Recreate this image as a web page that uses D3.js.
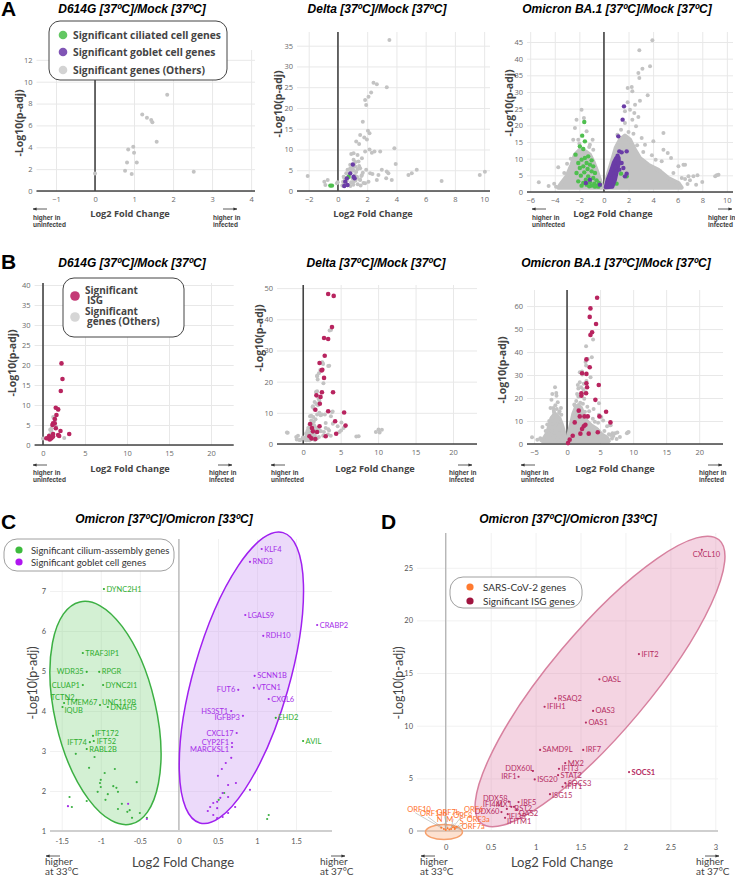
<!DOCTYPE html>
<html>
<head>
<meta charset="utf-8">
<script src="https://cdn.jsdelivr.net/npm/d3@7"></script>
<style>
  body { margin: 0; background: #fff; }
  svg { display: block; }
</style>
</head>
<body>
<script>
// ---------------- data ----------------

// A: D614G vs mock (all significant genes, grey)
const d614gPts = [[1.85,8.8],[1.21,7.0],[1.33,6.7],[1.44,6.5],[1.47,6.3],[1.58,4.5],[0.98,4.05],[0.85,3.8],
  [1.0,3.5],[0.82,2.6],[1.07,2.6],[0.77,1.85],[0.94,1.55],[2.53,1.75],[0.0,1.6]];

// A: Delta vs mock
const deltaPts = [[3.52,36.4],[2.43,26.1],[2.66,25.7],[3.34,25],[2.27,23.7],[2.09,22.7],[1.86,21.9],[1.93,20.7],
  [1.7,16.7],[2.05,14.5],[2.16,13.9],[1.52,13.5],[1.8,12.9],[1.98,12.4],[1.25,11.9],[1.45,11.3],[3.86,10.3],
  [2.16,10.0],[1.86,9.5],[2.32,9.2],[2.5,9.5],[2.89,9.5],[0.91,8.9],[1.07,9.1],[1.34,8.7],[1.64,7.9],[3.95,6.5],
  [1.41,7.1],[1.07,7.5],[0.84,6.3],[1.18,5.9],[1.52,5.5],[1.93,5.1],[2.2,4.3],[3.0,5.1],[3.34,4.7],[2.36,4.1],
  [2.77,3.85],[3.45,4.3],[5.39,5.1],[5.05,4.3],[4.82,3.85],[3.3,3.05],[3.68,2.65],[2.66,2.65],[7.09,2.4],
  [9.7,3.85],[10.05,4.65],[-2.07,3.6],[-0.93,2.25],[-0.7,2.65],[-0.86,1.45],[-0.07,1.85],[-0.02,2.1],[0.39,3.45],
  [0.57,4.25],[0.66,5.1],[0.84,5.5],[0.57,2.25],[1.07,2.25],[1.52,2.65],[1.86,1.85],[2.09,2.25],[1.3,3.45],
  [1.64,3.85],[0.39,1.45],[0.5,1.5],[0.6,2.5],[0.7,3.2],[0.8,4],[0.9,4.8],[1.0,5.5],[1.1,6.2],[1.2,7],[0.55,2],
  [0.65,1.4],[0.9,2.1],[1.0,3],[1.15,3.8],[1.25,4.6],[1.35,5.3],[1.45,6],[1.2,2.5],[1.35,1.6],[1.5,2.8],[1.6,3.6],
  [1.7,4.4],[1.55,1.3],[1.75,1.9],[0.45,3.1],[0.35,2.2],[0.3,1.3],[0.85,1.2],[1.05,1.5],[1.3,3.2],[1.1,4.9]];
const deltaCiliated = [[0.73,3.45],[-0.52,1.3],[-0.41,1.3]];
const deltaGoblet = [[1.02,6.4],[1.07,3.45],[1.14,3.05],[0.61,3.05],[0.5,2.25],[0.66,1.45],[0.43,1.2],[0.84,4.25]];

// A: Omicron BA.1 vs mock - dense cores traced as outlines, sparse genes as points
const omiLeftCore = [[-3.72,1.3],[-3.5,2.5],[-3.04,4.7],[-2.64,8.2],[-2.36,11.2],[-1.96,12.7],[-1.5,12.2],
  [-1.14,11.2],[-0.87,9.2],[-0.6,6.7],[-0.33,3.7],[-0.14,1.3]];
const omiRightCore = [[0.08,1.3],[0.35,5.7],[0.68,9.7],[0.95,13.2],[1.3,15.7],[1.71,16.9],[2.12,15.7],[2.53,12.7],
  [2.93,10.2],[3.61,8.2],[4.43,6.7],[5.24,4.2],[6.06,2.7],[6.33,1.3]];
const omiGobletCore = [[0.14,1.4],[0.3,3.7],[0.57,6.2],[0.79,8.7],[1.0,10.2],[1.2,10.3],[1.22,8.7],[1.05,6.2],
  [0.9,3.7],[0.68,1.6]];
const omiPts = [[3.94,45.5],[2.88,42.5],[3.75,37.7],[3.13,37],[2.8,35.7],[2.88,34.2],[1.93,31.2],[2.26,31.5],
  [2.31,30.2],[3.56,29],[2.93,27.4],[2.53,26.2],[1.93,26.9],[2.12,24.7],[2.47,23.7],[2.8,22.5],[1.71,24.2],
  [2.31,21.7],[2.61,19.7],[3.07,16.2],[4.84,17.7],[1.71,20.7],[1.39,18.7],[3.34,14.2],[4.02,15.2],[4.84,12.7],
  [5.19,11.7],[5.46,10.2],[4.21,9.7],[4.7,9.2],[6.06,7.7],[6.47,8.2],[6.6,8.2],[4.57,6.2],[5.65,5.7],[6.88,4.7],
  [7.28,4.7],[7.61,5.0],[6.33,4.2],[6.6,3.9],[9.05,4.7],[9.32,5.2],[9.18,5.0],[5.38,3.2],[5.92,2.7],[-5.3,2.9],
  [-3.72,7.4],[-4.05,2.5],[-3.23,5.7],[-2.36,19.2],[-2.23,21.7],[-1.82,24.7],[-1.63,22.2],[-2.5,15.7],[-2.09,15.7],
  [-1.41,18.2],[-1.14,14.2],[-0.92,15.7],[-0.87,12.7],[2.0,18],[2.4,17.5],[1.1,17.2],[2.7,14],[3.2,12],[3.9,11],
  [-2.7,10],[-3.0,8.5],[-1.2,13.5],[-2.0,14.5],[7.0,3.5],[8.0,3.0],[6.8,2.4],[7.5,2.2],[-4.5,1.8],[-3.9,1.6]];
const omiCiliated = [[-1.6,21.0],[-1.77,16.9],[-1.55,15.2],[-1.96,13.7],[-1.68,12.9],[-2.31,11.2],[-1.28,10.7],
  [-1.55,10.2],[-1.82,9.7],[-1.0,9.5],[-2.09,8.7],[-1.41,8.7],[-1.14,8.2],[-1.68,7.7],[-0.87,7.7],[-1.96,7.2],
  [-1.33,6.9],[-1.0,6.2],[-1.6,5.9],[-0.73,5.7],[-2.23,5.7],[-1.88,4.9],[-1.28,4.7],[-0.87,4.2],[-1.47,3.7],
  [-2.09,3.2],[-0.6,3.5],[-1.14,2.9],[-1.68,2.7],[-0.79,2.5],[-0.41,2.7],[-1.41,2.2],[-1.0,1.9],[-0.6,1.9],
  [-0.33,2.1],[-1.82,1.9],[-1.2,1.7],[-0.73,1.6],[-0.46,1.6],[0.95,8.9],[1.39,5.5],[1.85,4.7],[1.03,2.5]];
const omiGoblet = [[1.63,25.7],[1.52,21.7],[1.17,16.7],[1.25,12.2],[1.44,11.9],[1.85,12.2],[1.11,10.9],[1.44,8.7],
  [0.95,7.5],[1.58,7.2],[1.25,6.7],[1.85,5.5],[0.84,4.7],[1.71,4.7],[-1.14,3.7],[-0.33,2.2],[-1.47,2.7]];

// B: interferon stimulated genes
const d614gIsg = [[2.2,20.4],[2.32,16.5],[2.12,13.5],[1.52,9.3],[1.8,8.9],[1.6,7.5],[1.4,6.5],[1.2,5.4],[1.4,5.4],
  [1.12,5.0],[1.52,4.2],[2.08,3.5],[3.12,2.75],[1.2,2.75],[1.8,2.5],[1.92,2.25],[0.72,2.25],[0.6,1.7],[1.0,1.7],
  [0.8,1.4],[1.2,2.1],[0.4,1.7]];
const deltaIsg = [[3.33,48.1],[4.07,47.5],[3.84,37.5],[2.78,34],[3.33,33.7],[2.87,28.3],[2.18,26],[2.55,23.8],
  [2.45,23.6],[2.78,21.2],[3.98,16.6],[2.5,16.6],[1.76,15.6],[2.31,15.1],[2.22,12.9],[1.62,11],[3.33,10.5],
  [5.46,10.1],[4.26,7.3],[0.93,6.4],[1.16,5.1],[2.18,5.7],[5.65,5.9],[4.4,3.3],[1.85,3.85],[1.3,4.06],[3.0,2.5],
  [0.83,2.5],[1.1,1.8],[1.62,1.6]];
const deltaExtra = [[3.7,36.6],[3.47,25.1],[2.55,26.2],[1.85,21.7],[3.93,10.4],[1.3,12.1],[1.76,12.8],[10.2,3.7],
  [10.5,4.6],[7.4,2.5],[-2.18,3.7],[5.1,6.9],[4.6,5.7],[3.7,8.9],[3.0,6.7],[1.85,16.9],[2.7,19.5]];
const omiIsg = [[4.55,63.6],[3.54,59],[3.43,55.3],[4.39,52.2],[3.79,48.6],[3.54,47.4],[2.93,36.8],[3.43,33.4],
  [2.27,30.8],[2.93,30.5],[2.93,26.4],[4.8,25.7],[3.03,24.7],[2.17,22.1],[2.88,22.1],[2.17,21],[4.29,19.2],
  [1.77,14.5],[5.91,14],[1.92,12],[2.63,12],[3.13,12],[4.9,12],[1.16,9.4],[2.78,8.4],[2.53,7.7],[6.57,9.4],
  [2.27,6.5],[4.65,5.1],[0.86,3.6],[2.02,4.5],[3.28,4.5],[0.4,1.9],[0.15,0.4]];

// C: Omicron 37 vs 33
const ciliumLabeled = [["DYNC2H1",-0.96,7.05],["TRAF3IP1",-1.23,5.45],["WDR35",-1.18,4.98],["RPGR",-1.02,4.98],
  ["CLUAP1",-1.23,4.65],["DYNC2I1",-0.97,4.65],["TCTN2",-1.31,4.28],["TMEM67",-1.47,4.2],["IQUB",-1.49,4.1],
  ["UNC119B",-1.01,4.15],["DNAH5",-0.91,4.1],["IFT172",-1.10,3.38],["IFT52",-1.09,3.25],["IFT74",-1.14,3.22],
  ["RABL2B",-1.18,3.05],["EHD2",1.24,3.83],["AVIL",1.59,3.25]];
const ciliumOther = [[-1.32,2.93],[-1.08,2.85],[-1.15,2.58],[-0.95,2.45],[-0.82,2.55],[-1.0,2.28],[-1.01,2.2],
  [-1.0,2.1],[-0.84,2.12],[-0.8,2.08],[-0.78,1.98],[-1.04,1.98],[-0.91,1.92],[-0.94,1.78],[-1.18,1.75],[-1.4,1.85],
  [-1.37,1.6],[-0.78,1.55],[-0.73,1.68],[-0.66,1.48],[-0.63,1.52],[-0.54,2.22],[-0.5,1.45],[-0.6,1.33],[-0.41,1.33],
  [0.58,1.95],[0.51,1.78],[1.15,1.4],[1.13,1.3]];
const gobletLabeled = [["KLF4",1.06,8.05],["RND3",0.91,7.73],["LGALS9",0.85,6.4],["CRABP2",1.77,6.15],
  ["RDH10",1.08,5.88],["SCNN1B",0.97,4.88],["VTCN1",0.96,4.58],["FUT6",0.76,4.53],["CXCL6",1.15,4.3],
  ["HS3ST1",0.67,4.0],["IGFBP3",0.82,3.88],["CXCL17",0.74,3.45],["CYP2F1",0.68,3.2],["MARCKSL1",0.68,3.1]];
const gobletOther = [[0.67,2.83],[0.6,2.7],[0.55,2.55],[0.5,2.38],[0.73,2.2],[0.63,2.15],[0.91,2.03],[0.56,1.95],
  [0.53,1.83],[0.49,1.73],[0.44,1.7],[0.63,1.85],[0.72,1.6],[0.4,1.6],[0.37,1.5],[0.49,1.57],[0.63,1.45],[0.44,1.4],
  [0.56,1.35],[0.49,1.32],[-1.42,1.62],[-0.65,1.68],[-0.41,1.3]];

// D: Omicron 37 vs 33, ISGs and viral genes
const isgGenes = [["CXCL10",2.85,26.7],["IFIT2",2.15,16.8],["OASL",1.71,14.4],["RSAQ2",1.22,12.6],["IFIH1",1.1,11.8],
  ["OAS3",1.64,11.4],["OAS1",1.56,10.3],["SAMD9L",1.05,7.7],["IRF7",1.53,7.7],["MX2",1.33,6.45],["IFIT3",1.26,5.9],
  ["STAT2",1.25,5.3],["SOCS1",2.04,5.6],["SOCS3",1.33,4.55],["IFIT1",1.3,4.2],["ISG15",1.16,3.5],["ISG20",0.99,4.9],
  ["DDX60L",0.97,5.7],["IRF1",0.81,5.15],["DDX58",0.7,2.8],["IRF5",0.81,2.75],["IFI44L",0.68,2.1],["MX1",0.76,2.3],
  ["BST2",0.73,2.3],["DDX60",0.62,1.8],["OAS2",0.79,2.0],["IFI35",0.69,1.6],["IFITM1",0.66,1.25]];
const sarsGenes = [["ORF10",-0.05,0.3],["ORF1ab",-0.02,0.2],["ORF7b",0.02,0.25],["ORF6",0.08,0.35],["ORF8",0.06,0.2],
  ["N",0.0,0.1],["M",0.04,0.15],["ORF3a",0.1,0.2],["ORF7a",0.1,0.3],["S",0.12,0.4]];

// tick values
const d614gXTicks = [-1,0,1,2,3,4], d614gYTicks = [0,2,4,6,8,10,12];
const deltaXTicks = [-2,0,2,4,6,8,10], deltaYTicks = [0,5,10,15,20,25,30,35];
const omiXTicks = [-6,-4,-2,0,2,4,6,8,10], omiYTicks = [0,5,10,15,20,25,30,35,40,45];
const isgXTicks = [0,5,10,15,20], isgXTicksOmi = [-5,0,5,10,15,20];
const d614gIsgYTicks = [0,5,10,15,20,25,30,35,40], deltaIsgYTicks = [0,10,20,30,40,50], omiIsgYTicks = [0,10,20,30,40,50,60];
const cXTicks = [-1.5,-1,-0.5,0,0.5,1,1.5], cYTicks = [1,2,3,4,5,6,7];
const dXTicks = [0,0.5,1,1.5,2,2.5,3], dYTicks = [0,5,10,15,20,25];

// ---------------- drawing ----------------
const FP = "'Open Sans', 'DejaVu Sans', sans-serif";
const FT = "'Liberation Sans', Arial, sans-serif";
const FG = "Lato, 'Open Sans', sans-serif";
const GREY = "#c3c3c3", GREEN = "#4fbf4f", PURPLE = "#6a3ca6", ISG = "#b8245f";

const svg = d3.select("body").append("svg").attr("width", 735).attr("height", 877);

svg.append("defs").append("marker").attr("id", "ah").attr("viewBox", "0 0 10 10")
  .attr("refX", 9).attr("refY", 5).attr("markerWidth", 5).attr("markerHeight", 5).attr("orient", "auto-start-reverse")
  .append("path").attr("d", "M0,1 L10,5 L0,9 z").attr("fill", "#333");

function txt(x, y, s, o) {
  o = o || {};
  return svg.append("text").attr("x", x).attr("y", y).text(s)
    .attr("font-family", o.f || FT).attr("font-size", o.s || 10)
    .attr("font-weight", o.w || "normal").attr("font-style", o.i ? "italic" : "normal")
    .attr("text-anchor", o.a || "start").attr("fill", o.c || "#000");
}

// plotly-looking volcano box (panels A, B)
function plotlyBox(o) {
  const x = d3.scaleLinear().domain(o.xDom).range([o.l, o.r]);
  const y = d3.scaleLinear().domain(o.yDom).range([o.b, o.t]);
  const g = svg.append("g");
  const xa = g.append("g").attr("transform", "translate(0," + o.b + ")")
    .call(d3.axisBottom(x).tickValues(o.xTicks).tickSize(-(o.b - o.t)).tickPadding(6).tickFormat(d3.format("d")));
  const ya = g.append("g").attr("transform", "translate(" + o.l + ",0)")
    .call(d3.axisLeft(y).tickValues(o.yTicks).tickSize(-(o.r - o.l)).tickPadding(4).tickFormat(d3.format("d")));
  [xa, ya].forEach(a => {
    a.select(".domain").remove();
    a.selectAll("line").attr("stroke", "#e8e8e8");
    a.selectAll("text").attr("fill", "#6a6a6a").attr("font-size", 7.5).attr("font-family", FP);
  });
  g.append("line").attr("x1", x(0)).attr("x2", x(0)).attr("y1", o.t).attr("y2", o.b)
    .attr("stroke", "#444").attr("stroke-width", 1.6);
  g.append("line").attr("x1", o.l).attr("x2", o.r).attr("y1", y(0)).attr("y2", y(0))
    .attr("stroke", "#444").attr("stroke-width", 1.6);
  txt(o.titleX, o.titleY, o.title, {s: 12, w: "bold", i: true, a: "middle"});
  txt(o.xlabX, o.xlabY, "Log2 Fold Change", {f: FP, s: 9.2, w: "bold", a: "middle", c: "#444"});
  txt(0, 0, "-Log10(p-adj)", {f: FP, s: 10.5, w: "bold", a: "middle", c: "#444"})
    .attr("transform", "translate(" + o.ylabX + "," + o.ylabY + ") rotate(-90)");
  return {g, x, y};
}

function dots(p, data, color, r) {
  p.g.append("g").selectAll("circle").data(data).enter().append("circle")
    .attr("cx", d => p.x(d[0])).attr("cy", d => p.y(d[1])).attr("r", r).attr("fill", color);
}
function blob(p, pts, color) {
  p.g.append("path").datum(pts)
    .attr("d", d3.line().x(d => p.x(d[0])).y(d => p.y(d[1])).curve(d3.curveLinearClosed))
    .attr("fill", color).attr("stroke", color).attr("stroke-width", 4).attr("stroke-linejoin", "round");
}

// little "higher in ..." notes with arrows
function note(tx, ax, ay, dir, lines, y0, gap, o) {
  const x1 = dir < 0 ? ax + 14 : ax, x2 = dir < 0 ? ax : ax + 14;
  svg.append("line").attr("x1", x1).attr("x2", x2).attr("y1", ay).attr("y2", ay)
    .attr("stroke", "#333").attr("stroke-width", 0.8).attr("marker-end", "url(#ah)");
  lines.forEach((s, i) => txt(tx, y0 + i * gap, s, o));
}
const smallNote = {f: FT, s: 6.5, w: "bold", c: "#3a3a3a"};

// ---- panel letters
txt(1, 16, "A", {s: 21, w: "bold"});
txt(1, 269, "B", {s: 21, w: "bold"});
txt(1, 529, "C", {s: 21, w: "bold"});
txt(381, 529, "D", {s: 21, w: "bold"});

// ---- row A
const a1 = plotlyBox({xDom: [-1.5, 4.1], yDom: [0, 12.9], l: 36.5, r: 255, t: 50, b: 191,
  xTicks: d614gXTicks, yTicks: d614gYTicks, title: "D614G [37ºC]/Mock [37ºC]", titleX: 132, titleY: 13,
  xlabX: 130, xlabY: 217, ylabX: 23, ylabY: 123});
dots(a1, d614gPts, GREY, 2);

const a2 = plotlyBox({xDom: [-2.8, 10.4], yDom: [0, 38.3], l: 297, r: 490, t: 32, b: 191,
  xTicks: deltaXTicks, yTicks: deltaYTicks, title: "Delta [37ºC]/Mock [37ºC]", titleX: 377, titleY: 13,
  xlabX: 373, xlabY: 217, ylabX: 282, ylabY: 104});
dots(a2, deltaPts, GREY, 2);
dots(a2, deltaCiliated, GREEN, 2.2);
dots(a2, deltaGoblet, PURPLE, 2.2);

const a3 = plotlyBox({xDom: [-6.26, 10.5], yDom: [0, 48], l: 527, r: 733, t: 32, b: 192,
  xTicks: omiXTicks, yTicks: omiYTicks, title: "Omicron BA.1 [37ºC]/Mock [37ºC]", titleX: 617, titleY: 13,
  xlabX: 613, xlabY: 217, ylabX: 513, ylabY: 103});
blob(a3, omiLeftCore, GREY);
blob(a3, omiRightCore, GREY);
dots(a3, omiPts, GREY, 2);
dots(a3, omiCiliated, GREEN, 2.2);
blob(a3, omiGobletCore, PURPLE);
dots(a3, omiGoblet, PURPLE, 2.2);

// legend A
svg.append("rect").attr("x", 49).attr("y", 21).attr("width", 178).attr("height", 59).attr("rx", 11)
  .attr("fill", "#fff").attr("stroke", "#444").attr("stroke-width", 1);
[["Significant ciliated cell genes", "#63c763", 35], ["Significant goblet cell genes", "#8055b5", 52],
 ["Significant genes (Others)", "#d3d3d3", 70]].forEach(d => {
  svg.append("circle").attr("cx", 63).attr("cy", d[2]).attr("r", 4.3).attr("fill", d[1]);
  txt(73, d[2] + 3.8, d[0], {f: FP, s: 10.3, w: "bold", c: "#444"});
});

note(33, 33, 209, -1, ["higher in", "uninfected"], 220, 6.5, smallNote);
note(213, 223, 209, 1, ["higher in", "infected"], 220, 6.5, smallNote);
note(532, 532, 209, -1, ["higher in", "uninfected"], 220, 6.5, smallNote);
note(708, 718, 209, 1, ["higher in", "infected"], 220, 6.5, smallNote);

// ---- row B
const b1 = plotlyBox({xDom: [-1, 22.7], yDom: [0, 40.5], l: 34.6, r: 233.7, t: 283, b: 445,
  xTicks: isgXTicks, yTicks: d614gIsgYTicks, title: "D614G [37ºC]/Mock [37ºC]", titleX: 132, titleY: 267,
  xlabX: 130, xlabY: 472, ylabX: 16, ylabY: 363});
dots(b1, d614gPts, GREY, 2);
dots(b1, d614gIsg, ISG, 2.3);

const b2 = plotlyBox({xDom: [-3.5, 23.2], yDom: [0, 51], l: 277, r: 477, t: 285, b: 444,
  xTicks: isgXTicks, yTicks: deltaIsgYTicks, title: "Delta [37ºC]/Mock [37ºC]", titleX: 376, titleY: 267,
  xlabX: 375, xlabY: 472, ylabX: 263, ylabY: 338});
dots(b2, deltaPts.concat(deltaCiliated, deltaGoblet, deltaExtra), GREY, 2);
dots(b2, deltaIsg, ISG, 2.3);

const b3 = plotlyBox({xDom: [-6.06, 23.6], yDom: [0, 67], l: 527, r: 723, t: 290, b: 444,
  xTicks: isgXTicksOmi, yTicks: omiIsgYTicks, title: "Omicron BA.1 [37ºC]/Mock [37ºC]", titleX: 616, titleY: 267,
  xlabX: 615, xlabY: 472, ylabX: 506, ylabY: 370});
blob(b3, omiLeftCore, GREY);
blob(b3, omiRightCore, GREY);
blob(b3, omiGobletCore, GREY);
dots(b3, omiPts.concat(omiCiliated, omiGoblet), GREY, 2);
dots(b3, omiIsg, ISG, 2.3);

// legend B
svg.append("rect").attr("x", 63).attr("y", 278).attr("width", 121).attr("height", 59).attr("rx", 11)
  .attr("fill", "#fff").attr("stroke", "#444").attr("stroke-width", 1);
svg.append("circle").attr("cx", 75).attr("cy", 296).attr("r", 4.8).attr("fill", "#c43a76");
svg.append("circle").attr("cx", 75).attr("cy", 317).attr("r", 4.8).attr("fill", "#d6d6d6");
txt(85, 293.5, "Significant", {f: FP, s: 10, w: "bold", c: "#444"});
txt(87, 304, "ISG", {f: FP, s: 10, w: "bold", c: "#444"});
txt(85, 314.5, "Significant", {f: FP, s: 10, w: "bold", c: "#444"});
txt(87, 325, "genes (Others)", {f: FP, s: 10, w: "bold", c: "#444"});

note(33, 33, 465, -1, ["higher in", "uninfected"], 475, 6.5, smallNote);
note(209, 218, 465, 1, ["higher in", "infected"], 475, 6.5, smallNote);
note(271, 271, 465, -1, ["higher in", "uninfected"], 475, 6.5, smallNote);
note(449, 458, 465, 1, ["higher in", "infected"], 475, 6.5, smallNote);
note(521, 521, 465, -1, ["higher in", "uninfected"], 475, 6.5, smallNote);
note(699, 708, 465, 1, ["higher in", "infected"], 475, 6.5, smallNote);

// ---- C / D: ggplot-looking boxes
function ggBox(o) {
  const x = d3.scaleLinear().domain(o.xDom).range([o.l, o.r]);
  const y = d3.scaleLinear().domain(o.yDom).range([o.b, o.t]);
  const g = svg.append("g");
  const xa = g.append("g").attr("transform", "translate(0," + o.b + ")")
    .call(d3.axisBottom(x).tickValues(o.xTicks).tickSize(-(o.b - o.t)).tickPadding(o.xPad).tickFormat(d => String(d)));
  const ya = g.append("g").attr("transform", "translate(" + o.l + ",0)")
    .call(d3.axisLeft(y).tickValues(o.yTicks).tickSize(-(o.r - o.l)).tickPadding(4).tickFormat(d => String(d)));
  [xa, ya].forEach(a => {
    a.select(".domain").remove();
    a.selectAll("line").attr("stroke", "#f1f1f1");
    a.selectAll("text").attr("fill", "#555").attr("font-size", 7.5).attr("font-family", FG);
  });
  g.append("line").attr("x1", x(0)).attr("x2", x(0)).attr("y1", o.t).attr("y2", o.b)
    .attr("stroke", "#a0a0a0").attr("stroke-width", 1);
  g.append("line").attr("x1", o.l).attr("x2", o.r).attr("y1", o.b).attr("y2", o.b)
    .attr("stroke", "#cfcfcf").attr("stroke-width", 2);
  txt(o.titleX, 523, "Omicron [37ºC]/Omicron [33ºC]", {s: 12, w: "bold", i: true, a: "middle"});
  txt(o.xlabX, 867, "Log2 Fold Change", {f: FG, s: 13, a: "middle", c: "#444"});
  txt(0, 0, "-Log10(p-adj)", {f: FG, s: 12.5, a: "middle", c: "#444"})
    .attr("transform", "translate(" + o.ylabX + "," + o.ylabY + ") rotate(-90)");
  return {g, x, y};
}
function ellipse(p, cx, cy, rx, ry, rot, fill, stroke) {
  p.g.append("ellipse").attr("cx", 0).attr("cy", 0).attr("rx", rx).attr("ry", ry)
    .attr("transform", "translate(" + p.x(cx) + "," + p.y(cy) + ") rotate(" + rot + ")")
    .attr("fill", fill).attr("stroke", stroke).attr("stroke-width", 1.5);
}
function genes(p, data, color, nudge, size) {
  const gg = p.g.append("g");
  gg.selectAll("circle").data(data).enter().append("circle")
    .attr("cx", d => p.x(d[1])).attr("cy", d => p.y(d[2])).attr("r", 1.1).attr("fill", color);
  gg.selectAll("text").data(data).enter().append("text")
    .attr("x", d => p.x(d[1]) + ((nudge[d[0]] || {}).dx !== undefined ? nudge[d[0]].dx : 2.5))
    .attr("y", d => p.y(d[2]) + ((nudge[d[0]] || {}).dy !== undefined ? nudge[d[0]].dy : 2.5))
    .attr("text-anchor", d => (nudge[d[0]] || {}).a || "start")
    .attr("font-weight", d => (nudge[d[0]] || {}).w || "normal")
    .attr("font-family", FG).attr("font-size", size).attr("fill", color)
    .text(d => d[0]);
}

// C
const cNudge = {WDR35: {dx: -3, a: "end"}, CLUAP1: {dx: -3, a: "end"}, TCTN2: {dx: -2, dy: 0, a: "end"},
  IFT74: {dx: -3, a: "end"}, TMEM67: {dx: 2, dy: 2}, IQUB: {dx: 2, dy: 6}, UNC119B: {dx: 2, dy: 0},
  IFT172: {dx: 2, dy: 0}, IFT52: {dx: 3, dy: 3}, FUT6: {dx: -3, a: "end"}, HS3ST1: {dx: -3, a: "end"},
  IGFBP3: {dx: -3, dy: 4, a: "end"}, CXCL17: {dx: -3, a: "end"}, CYP2F1: {dx: -3, dy: 2, a: "end"},
  MARCKSL1: {dx: -3, dy: 5, a: "end"}};
const pc = ggBox({xDom: [-1.65, 1.96], yDom: [1, 8.3], l: 50, r: 332, t: 539, b: 831, xPad: 8,
  xTicks: cXTicks, yTicks: cYTicks, titleX: 164, xlabX: 183, ylabX: 37, ylabY: 683});
ellipse(pc, -0.94, 3.95, 50.5, 114, -13, "rgba(110,205,110,0.3)", "#3cb043");
ellipse(pc, 0.80, 4.83, 48, 151, 16, "rgba(200,150,240,0.35)", "#a020f0");
dots(pc, ciliumOther, "#3cb043", 1.1);
dots(pc, gobletOther, "#a52ee8", 1.1);
genes(pc, ciliumLabeled, "#2fae2f", cNudge, 7.5);
genes(pc, gobletLabeled, "#a52ee8", cNudge, 7.5);

svg.append("rect").attr("x", 4).attr("y", 539).attr("width", 170).attr("height", 32).attr("rx", 13)
  .attr("fill", "#fff").attr("stroke", "#888").attr("stroke-width", 0.8);
svg.append("circle").attr("cx", 19).attr("cy", 550).attr("r", 3.6).attr("fill", "#3dbb3d");
svg.append("circle").attr("cx", 19).attr("cy", 562).attr("r", 3.6).attr("fill", "#b015f0");
txt(31, 553.5, "Significant cilium-assembly genes", {f: FG, s: 9.5, c: "#333"});
txt(31, 565.5, "Significant goblet cell genes", {f: FG, s: 9.5, c: "#333"});

const bigNote = {f: FG, s: 10, c: "#444"};
note(45, 46, 856, -1, ["higher", "at 33°C"], 865, 10, bigNote);
note(320, 331, 856, 1, ["higher", "at 37°C"], 865, 10, bigNote);

// D
const dNudge = {CXCL10: {dx: -9, dy: 7}, DDX60L: {dx: 1, dy: 0, a: "end"}, IRF1: {dx: -2, dy: 2, a: "end"},
  DDX58: {dx: -1, dy: -1, a: "end"}, IFI44L: {dx: -3, dy: -2, a: "end"}, MX1: {dx: -2, dy: 0, a: "end"},
  DDX60: {dx: -2, dy: 1.5, a: "end"}, BST2: {dx: 3, dy: 4}, OAS2: {dx: 2, dy: 6}, IFI35: {dx: 1, dy: 5},
  IFITM1: {dx: 2, dy: 6}, ISG15: {dx: 2, dy: 4}, SOCS1: {dx: 2.5, dy: 2.5, w: "bold"}};
const pd = ggBox({xDom: [-0.32, 3.03], yDom: [0, 28.3], l: 417, r: 718, t: 533, b: 831, xPad: 14,
  xTicks: dXTicks, yTicks: dYTicks, titleX: 568, xlabX: 562, ylabX: 403, ylabY: 683});
ellipse(pd, 1.717, 14.2, 185, 50, -50, "rgba(222,120,165,0.32)", "#d7819f");
ellipse(pd, -0.02, -0.1, 18.5, 7.5, 0, "rgba(250,170,120,0.35)", "#f6a06c");
genes(pd, isgGenes, "#b52d62", dNudge, 7.5);

// viral genes with leader lines
const sarsNudge = {ORF10: [-34, -16], ORF1ab: [-24, -13], ORF7b: [-11, -13], ORF6: [11, -15], ORF8: [2, -11],
  N: [-9, -8], M: [-3, -7], ORF3a: [12, -7], ORF7a: [7, 1], S: [3, -3]};
const sg = pd.g.append("g");
sg.selectAll("line").data(sarsGenes).enter().append("line")
  .attr("x1", d => pd.x(d[1])).attr("y1", d => pd.y(d[2]))
  .attr("x2", d => pd.x(d[1]) + sarsNudge[d[0]][0] + (sarsNudge[d[0]][0] < 0 ? 8 : 0))
  .attr("y2", d => pd.y(d[2]) + sarsNudge[d[0]][1] + 1)
  .attr("stroke", "#999").attr("stroke-width", 0.5);
sg.selectAll("circle").data(sarsGenes).enter().append("circle")
  .attr("cx", d => pd.x(d[1])).attr("cy", d => pd.y(d[2])).attr("r", 1).attr("fill", "#ff7a30");
sg.selectAll("text").data(sarsGenes).enter().append("text")
  .attr("x", d => pd.x(d[1]) + sarsNudge[d[0]][0]).attr("y", d => pd.y(d[2]) + sarsNudge[d[0]][1])
  .attr("font-family", FG).attr("font-size", 7.5).attr("fill", "#ff6f2a").text(d => d[0]);

svg.append("rect").attr("x", 450).attr("y", 577).attr("width", 132).attr("height", 31).attr("rx", 13)
  .attr("fill", "#fff").attr("stroke", "#888").attr("stroke-width", 0.8);
svg.append("circle").attr("cx", 470).attr("cy", 587).attr("r", 3.6).attr("fill", "#ff7a30");
svg.append("circle").attr("cx", 470).attr("cy", 601).attr("r", 3.6).attr("fill", "#a0143f");
txt(483, 590.5, "SARS-CoV-2 genes", {f: FG, s: 10, c: "#333"});
txt(483, 604.5, "Significant ISG genes", {f: FG, s: 10, c: "#333"});

note(420, 421, 856, -1, ["higher", "at 33°C"], 865, 10, bigNote);
note(696, 705, 856, 1, ["higher", "at 37°C"], 865, 10, bigNote);
</script>
</body>
</html>
